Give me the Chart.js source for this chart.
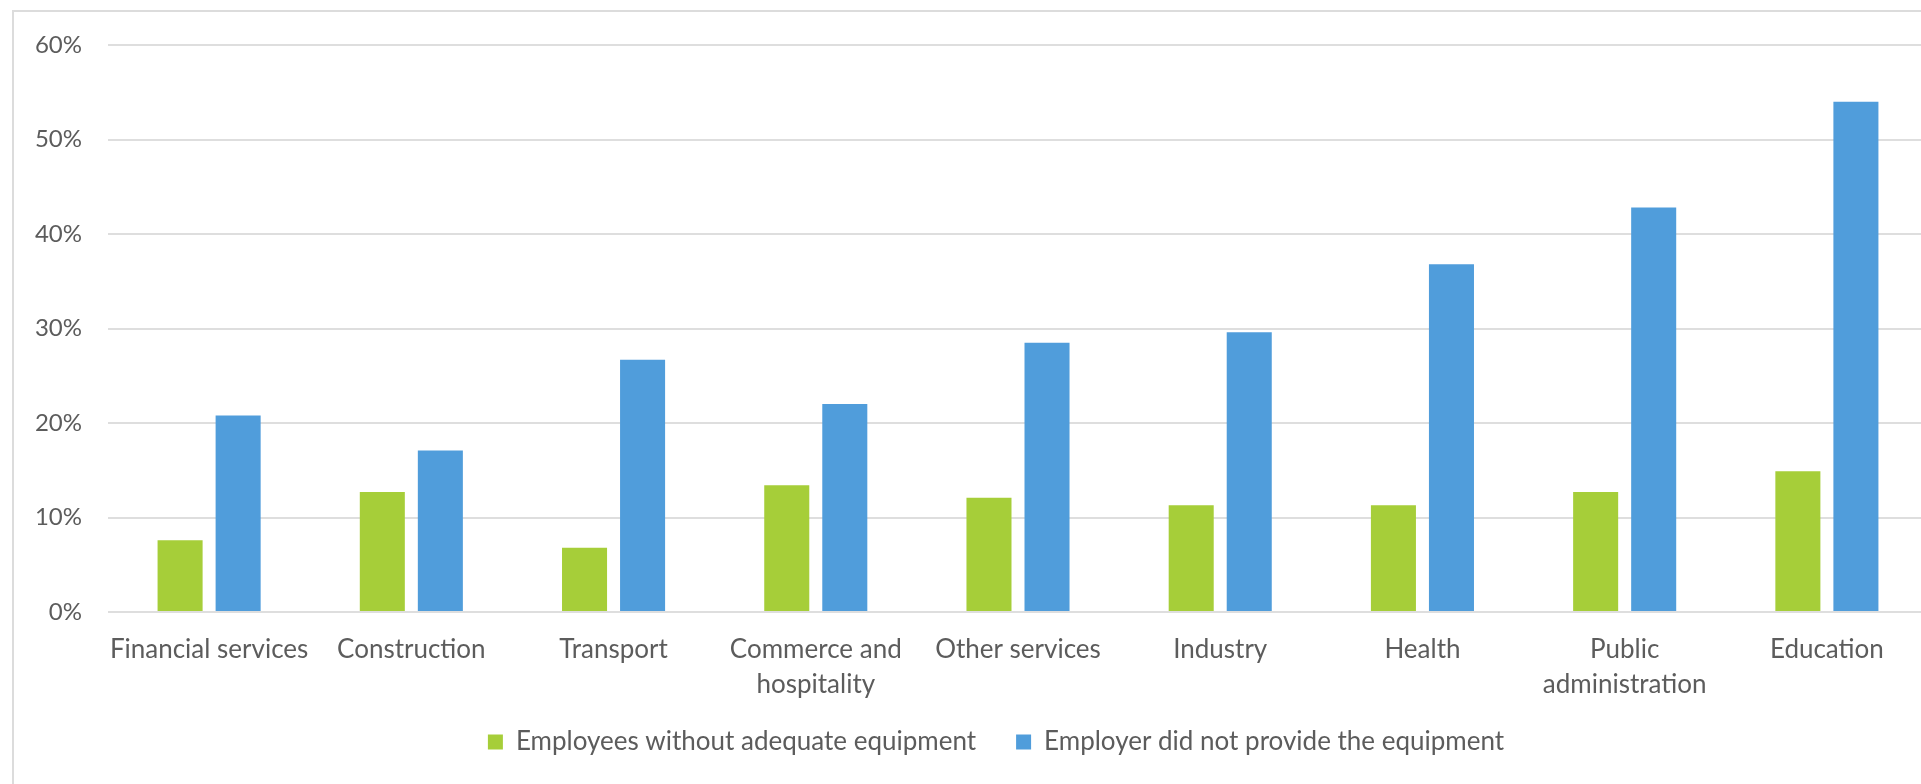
<!DOCTYPE html>
<html>
<head>
<meta charset="utf-8">
<script src="https://cdn.jsdelivr.net/npm/chart.js@4.4.1/dist/chart.umd.min.js"></script>
<style>
    html, body { margin: 0; padding: 0; background: #fff; overflow: hidden; }
    #frame {
        position: absolute; left: 12px; top: 10px;
        width: 2000px; height: 900px;
        border: 2px solid #dcdcdc;
    }
    #wrap { position: absolute; left: 0; top: 0; width: 1940px; height: 784px; }
</style>
</head>
<body>
<div id="frame"></div>
<div id="wrap"><canvas id="chart"></canvas></div>
<script>
// Sectors (x axis), multi-line where the original wraps
const categories = [
    'Financial services',
    'Construction',
    'Transport',
    ['Commerce and', 'hospitality'],
    'Other services',
    'Industry',
    'Health',
    ['Public', 'administration'],
    'Education'
];

// Series values in %
const withoutEquipment = [7.6, 12.7, 6.8, 13.4, 12.1, 11.3, 11.3, 12.7, 14.9];
const notProvided = [20.8, 17.1, 26.7, 22.0, 28.5, 29.6, 36.8, 42.8, 54.0];

const seriesNames = ['Employees without adequate equipment', 'Employer did not provide the equipment'];
const yTicks = [0, 10, 20, 30, 40, 50, 60];

const textColor = '#5c5c5c';
const fontFamily = 'Lato, "Open Sans", sans-serif';

// nudge the legend to where the original sits (it is centred a bit right of the canvas)
const legendNudge = {
    id: 'legendNudge',
    afterLayout(chart) {
        const lg = chart.legend;
        if (!lg) return;
        lg.left += 17; lg.right += 17;
        lg.top -= 19; lg.bottom -= 19;
    }
};

document.addEventListener('DOMContentLoaded', () => {
    const ctx = document.getElementById('chart').getContext('2d');

    new Chart(ctx, {
        type: 'bar',
        data: {
            labels: categories,
            datasets: [{
                label: seriesNames[0],
                data: withoutEquipment,
                backgroundColor: '#a6ce39',
                categoryPercentage: 0.574,
                barPercentage: 0.776
            }, {
                label: seriesNames[1],
                data: notProvided,
                backgroundColor: '#509ddb',
                categoryPercentage: 0.574,
                barPercentage: 0.776
            }]
        },
        plugins: [legendNudge],
        options: {
            responsive: true,
            maintainAspectRatio: false,
            animation: false,
            layout: {
                padding: { left: 30, right: 12, top: 45, bottom: 0 }
            },
            plugins: {
                legend: {
                    position: 'bottom',
                    labels: {
                        color: textColor,
                        font: { family: fontFamily, size: 26 },
                        boxWidth: 15,
                        boxHeight: 15,
                        padding: 40
                    }
                },
                tooltip: { enabled: false }
            },
            scales: {
                x: {
                    grid: { display: false },
                    border: { display: false },
                    ticks: {
                        color: textColor,
                        font: { family: fontFamily, size: 26, lineHeight: 1.35 },
                        maxRotation: 0,
                        autoSkip: false,
                        padding: 12
                    },
                    afterFit: (scale) => { scale.height = 96; }
                },
                y: {
                    min: 0,
                    max: 60,
                    grid: {
                        color: '#dedede',
                        lineWidth: 2,
                        drawTicks: false
                    },
                    border: { display: false },
                    afterBuildTicks: (scale) => {
                        scale.ticks = yTicks.map(v => ({ value: v }));
                    },
                    ticks: {
                        color: textColor,
                        font: { family: fontFamily, size: 24 },
                        padding: 26,
                        callback: (v) => v + '%'
                    },
                    afterFit: (scale) => { scale.width = 78; }
                }
            }
        }
    });
});
</script>
</body>
</html>
